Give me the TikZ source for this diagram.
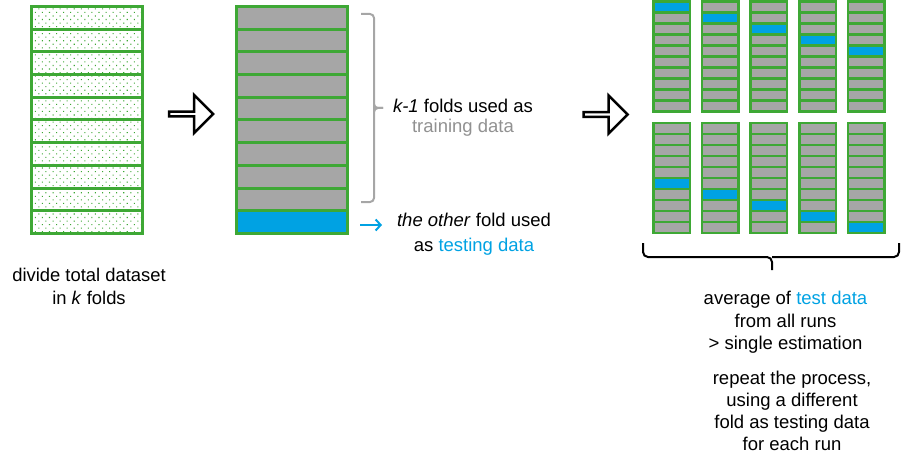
\documentclass[tikz,border=0pt]{standalone}
\usepackage{fontspec}
\setmainfont{Liberation Sans}
\usepackage{tikz}
\usetikzlibrary{arrows.meta,shapes.arrows,patterns.meta}
\definecolor{foldgreen}{RGB}{62,168,53}
\definecolor{foldgray}{RGB}{166,166,166}
\definecolor{testblue}{RGB}{0,162,227}
\definecolor{traingray}{RGB}{145,145,145}

\begin{document}
\begin{tikzpicture}[x=1pt, y=-1pt,
  fold/.style={draw=foldgreen, line width=3pt, inner sep=0pt, outer sep=0pt, minimum width=111pt, minimum height=22.7pt},
  minifold/.style={draw=foldgreen, line width=2.5pt, inner sep=0pt, outer sep=0pt, minimum width=36.5pt, minimum height=11pt},
  dotted fold/.style={fold, pattern={Dots[distance=5pt, angle=45, radius=0.75pt]}, pattern color=foldgreen},
  bigarr/.style={single arrow, draw, fill=white, line width=2.5pt, inner sep=0pt, minimum width=38pt, minimum height=44pt, single arrow head extend=9pt},
  txt/.style={align=center, inner sep=1pt},
  arr/.style={-{Straight Barb[length=5pt, width=11pt]}, line width=2pt}]
  \useasboundingbox (0,0) rectangle (901,465);
  % left stack: the whole dataset cut in 10 folds
  \foreach \i in {0,...,9}
    \node[dotted fold] (L\i) at (87,{6.5+22.7*(\i+0.5)}) {};
  \node[txt, font=\fontsize{18.4}{23}\selectfont] (divide) at (89,286.5) {divide total dataset\\in \textit{k} folds};
  \node[bigarr] (step1) at (190,114) {};
  % middle stack: 9 training folds and 1 test fold
  \foreach \i in {0,...,8}
    \node[fold, fill=foldgray] (M\i) at (292,{6.5+22.7*(\i+0.5)}) {};
  \node[fold, fill=testblue] (M9) at (292,{6.5+22.7*9.5}) {};
  \draw[foldgray, line width=2pt, rounded corners=4pt] (361,14) -- (374,14) -- (374,104) |- (383,108);
  \draw[foldgray, line width=2pt, rounded corners=4pt] (361,202) -- (374,202) -- (374,112) |- (383,108);
  \node[txt, font=\fontsize{18.5}{20}\selectfont] (train) at (463,118) {\textit{k-1} folds used as\\\textcolor{traingray}{training data}};
  \node[txt, font=\fontsize{18.5}{25}\selectfont] (other) at (474,234.5) {\textit{the other} fold used\\as \textcolor{testblue}{testing data}};
  \coordinate (bsrc) at (360,225);
  \coordinate (bdst) at (382,225);
  \draw[arr, testblue] (bsrc) -- (bdst);
  \node[bigarr] (step2) at (604.5,114.5) {};
  % right: 10 runs, each with another test fold
  \foreach \c in {0,...,4}{
    \foreach \r in {0,...,9}{
      \pgfmathsetmacro{\tcol}{\r==\c ? "testblue" : "foldgray"}
      \pgfmathsetmacro{\bcol}{\r==\c+5 ? "testblue" : "foldgray"}
      \node[minifold, fill=\tcol] (T\c\r) at ({671.5+48.7*\c},{1.25+11.05*(\r+0.5)}) {};
      \node[minifold, fill=\bcol] (B\c\r) at ({671.5+48.7*\c},{123.25+10.95*(\r+0.5)}) {};
    }
  }
  \draw[line width=2pt, rounded corners=5pt] (643,243) -- (643,257) -- (772,257) -- (772,270);
  \draw[line width=2pt, rounded corners=5pt] (899,243) -- (899,257) -- (772,257);
  \node[txt, font=\fontsize{18.5}{22.5}\selectfont] (avg) at (785.5,322.5) {average of \textcolor{testblue}{test data}\\from all runs\\> single estimation};
  \node[txt, font=\fontsize{18.5}{22}\selectfont] (repeat) at (792,411) {repeat the process,\\using a different\\fold as testing data\\for each run};
\end{tikzpicture}
\end{document}
